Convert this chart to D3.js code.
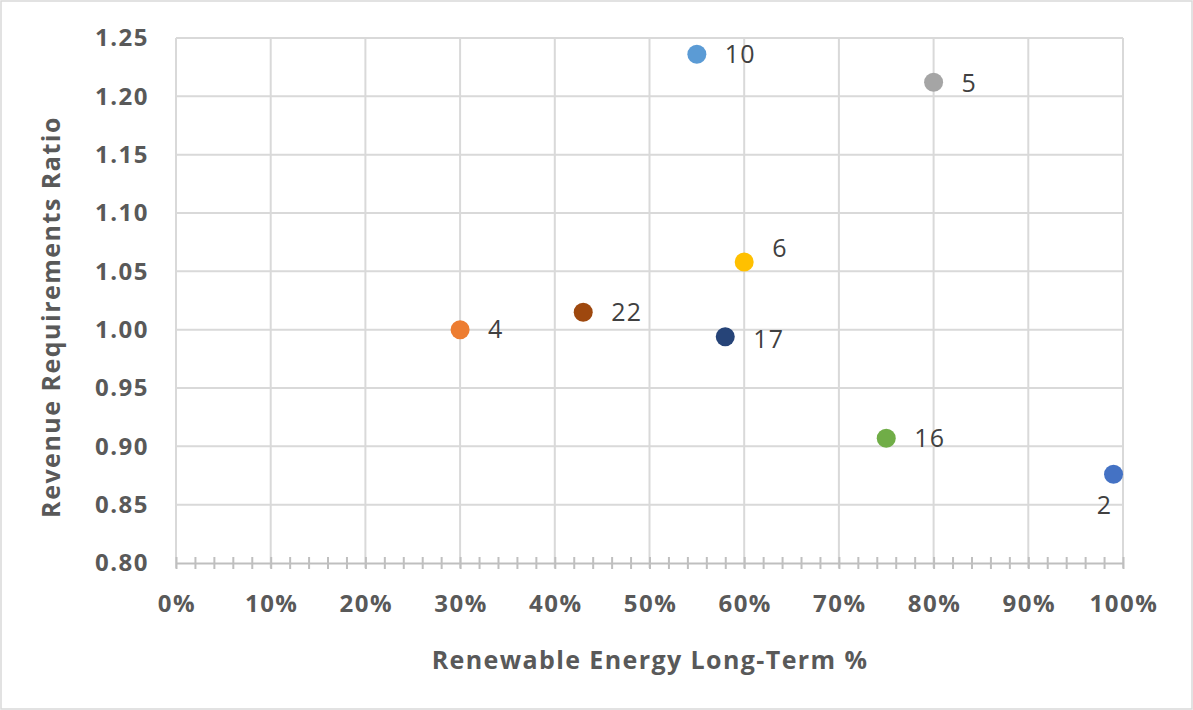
<!DOCTYPE html>
<html>
<head>
<meta charset="utf-8">
<script src="https://cdn.jsdelivr.net/npm/d3@7"></script>
<style>
  html, body { margin: 0; padding: 0; background: #fff; }
  svg { display: block; }
  text { font-family: "Open Sans", "DejaVu Sans", sans-serif; }
</style>
</head>
<body>
<svg id="chart" width="1193" height="710"></svg>
<script>
// Scenario points: renewable share vs. revenue requirement ratio
const scenarios = ["10", "5", "6", "22", "4", "17", "16", "2"];
const renewableShare = [0.55, 0.80, 0.60, 0.43, 0.30, 0.58, 0.75, 0.99];
const revenueRatio = [1.236, 1.212, 1.058, 1.015, 1.000, 0.994, 0.907, 0.876];
const pointColors = ["#5B9BD5", "#A5A5A5", "#FFC000", "#9E480E", "#ED7D31", "#264478", "#70AD47", "#4472C4"];

const xTicks = [0, 0.1, 0.2, 0.3, 0.4, 0.5, 0.6, 0.7, 0.8, 0.9, 1.0];
const yTicks = [0.80, 0.85, 0.90, 0.95, 1.00, 1.05, 1.10, 1.15, 1.20, 1.25];
const xTitle = "Renewable Energy Long-Term %";
const yTitle = "Revenue Requirements Ratio";

// Label placement: right of the marker by default, a few nudged to avoid crowding
const labelNudge = { "6": [0, -14], "17": [0, 3], "5": [0, 1], "2": "below" };

const W = 1193, H = 710;
const margin = { left: 176, right: 70, top: 38, bottom: 147 };
const svg = d3.select("#chart");

// Outer chart border
svg.append("rect")
  .attr("x", 1).attr("y", 1).attr("width", W - 2).attr("height", H - 2)
  .attr("fill", "#fff").attr("stroke", "#D9D9D9").attr("stroke-width", 1.5);

const x = d3.scaleLinear().domain([0, 1]).range([margin.left, W - margin.right]);
const y = d3.scaleLinear().domain([0.80, 1.25]).range([H - margin.bottom, margin.top]);

const grid = svg.append("g");
// Vertical gridlines
grid.selectAll("line.vx").data(xTicks).join("line")
  .attr("x1", d => x(d)).attr("x2", d => x(d))
  .attr("y1", y(1.25)).attr("y2", y(0.80) + 5)
  .attr("stroke", "#D9D9D9").attr("stroke-width", 2);
// Horizontal gridlines
grid.selectAll("line.hy").data(yTicks.filter(d => d > 0.8)).join("line")
  .attr("x1", x(0)).attr("x2", x(1))
  .attr("y1", d => y(d)).attr("y2", d => y(d))
  .attr("stroke", "#D9D9D9").attr("stroke-width", 2);

// Bottom axis with crossing minor ticks every 2%
const xAxis = d3.axisBottom(x).tickValues(d3.range(0, 51).map(i => i / 50))
  .tickSize(0).tickFormat("");
const xg = svg.append("g").attr("transform", `translate(0,${y(0.80)})`).call(xAxis);
xg.select(".domain").attr("stroke", "#BFBFBF").attr("stroke-width", 2);
xg.selectAll(".tick line")
  .attr("y1", -6).attr("y2", 6)
  .attr("stroke", "#BFBFBF").attr("stroke-width", 2);

// X tick labels
svg.append("g").selectAll("text").data(xTicks).join("text")
  .attr("x", d => x(d) + 1).attr("y", y(0.80) + 41).attr("dy", "0.35em")
  .attr("text-anchor", "middle")
  .attr("font-size", 24).attr("font-weight", "bold").attr("fill", "#595959")
  .attr("letter-spacing", 1.5)
  .text(d => d3.format(".0%")(d));

// Y tick labels
svg.append("g").selectAll("text").data(yTicks).join("text")
  .attr("x", 149).attr("y", d => y(d)).attr("dy", "0.35em")
  .attr("text-anchor", "end")
  .attr("font-size", 24).attr("font-weight", "bold").attr("fill", "#595959")
  .attr("letter-spacing", 1.5)
  .text(d => d.toFixed(2));

// Axis titles
svg.append("text")
  .attr("x", 650).attr("y", 660).attr("dy", "0.35em")
  .attr("text-anchor", "middle")
  .attr("font-size", 25).attr("font-weight", "bold").attr("fill", "#595959")
  .attr("letter-spacing", 1.4)
  .text(xTitle);
svg.append("text")
  .attr("transform", "translate(51,317) rotate(-90)")
  .attr("dy", "0.35em")
  .attr("text-anchor", "middle")
  .attr("font-size", 25).attr("font-weight", "bold").attr("fill", "#595959")
  .attr("letter-spacing", 1.5)
  .text(yTitle);

// Markers and data labels
const pts = scenarios.map((s, i) => ({ s, xv: renewableShare[i], yv: revenueRatio[i], c: pointColors[i] }));
svg.append("g").selectAll("circle").data(pts).join("circle")
  .attr("cx", d => x(d.xv)).attr("cy", d => y(d.yv)).attr("r", 9.5)
  .attr("fill", d => d.c);

svg.append("g").selectAll("text").data(pts).join("text")
  .attr("x", d => labelNudge[d.s] === "below" ? x(d.xv) - 9 : x(d.xv) + 28 + (labelNudge[d.s] ? labelNudge[d.s][0] : 0))
  .attr("y", d => labelNudge[d.s] === "below" ? y(d.yv) + 31 : y(d.yv) + (labelNudge[d.s] ? labelNudge[d.s][1] : 0))
  .attr("dy", "0.35em")
  .attr("text-anchor", d => labelNudge[d.s] === "below" ? "middle" : "start")
  .attr("font-size", 25).attr("fill", "#404040")
  .attr("letter-spacing", 1.2)
  .text(d => d.s);
</script>
</body>
</html>
